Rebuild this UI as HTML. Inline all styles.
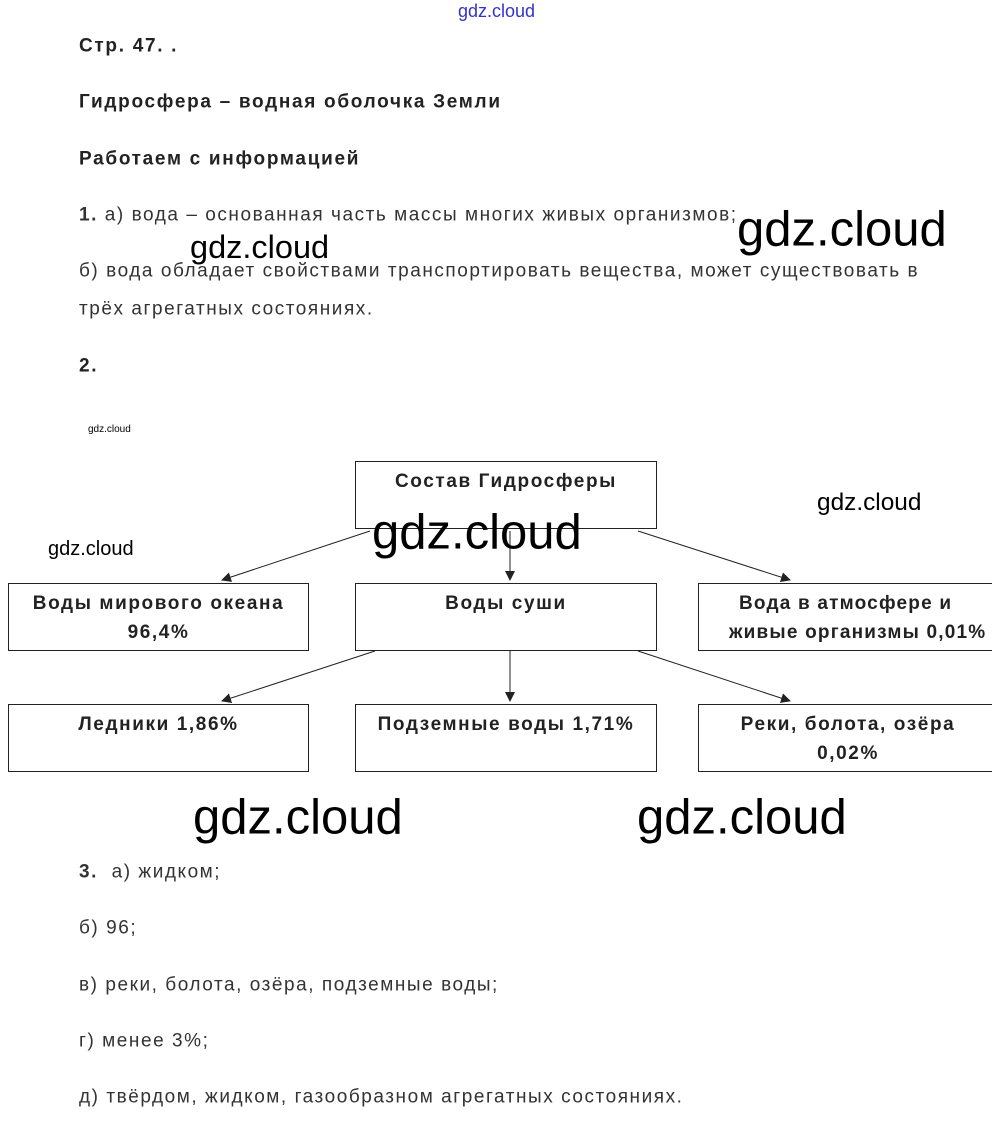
<!DOCTYPE html>
<html><head><meta charset="utf-8">
<style>
body{margin:0;width:992px;height:1129px;background:#fff;position:relative;overflow:hidden;font-family:"Liberation Sans",Arial,sans-serif;color:#333}
.t{position:absolute;left:79px;font-size:19px;letter-spacing:1.55px;white-space:nowrap;line-height:1;transform:translateY(-50%)}
.b{font-weight:bold;color:#222;letter-spacing:1.7px}
.w{position:absolute;color:#000;white-space:nowrap;line-height:1;transform:translateY(-50%);font-family:"Liberation Sans",sans-serif;letter-spacing:0}
.box{position:absolute;border:1.5px solid #222;box-sizing:border-box;text-align:center;font-weight:bold;font-size:19px;letter-spacing:1.6px;color:#222;line-height:29px;padding-top:5px;white-space:nowrap}
</style></head><body>
<div class="w" style="left:458px;top:11px;font-size:18px;color:#3333cc">gdz.cloud</div>
<div class="t b" style="top:46px">Стр. 47. .</div>
<div class="t b" style="top:102px">Гидросфера – водная оболочка Земли</div>
<div class="t b" style="top:159px">Работаем с информацией</div>
<div class="t" style="top:215px"><b>1.</b> а) вода – основанная часть массы многих живых организмов;</div>
<div class="t" style="top:271px">б) вода обладает свойствами транспортировать вещества, может существовать в</div>
<div class="t" style="top:309px">трёх агрегатных состояниях.</div>
<div class="t b" style="top:366px">2.</div>
<div class="w" style="left:88px;top:430px;font-size:10px">gdz.cloud</div>

<svg style="position:absolute;left:0;top:0" width="992" height="1129">
<defs><marker id="a" markerWidth="10" markerHeight="10" refX="9" refY="5" orient="auto" markerUnits="userSpaceOnUse"><path d="M0,0 L10,5 L0,10 z" fill="#222"/></marker></defs>
<g stroke="#222" stroke-width="1" marker-end="url(#a)">
<line x1="370" y1="531" x2="222" y2="580"/>
<line x1="510" y1="531" x2="510" y2="580"/>
<line x1="638" y1="531" x2="790" y2="580"/>
<line x1="375" y1="651" x2="222" y2="701"/>
<line x1="510" y1="651" x2="510" y2="701"/>
<line x1="638" y1="651" x2="790" y2="701"/>
</g></svg>

<div class="box" style="left:355px;top:461px;width:302px;height:68px">Состав Гидросферы</div>
<div class="box" style="left:8px;top:583px;width:301px;height:68px">Воды мирового океана<br>96,4%</div>
<div class="box" style="left:355px;top:583px;width:302px;height:68px">Воды суши</div>
<div class="box" style="left:698px;top:583px;width:300px;height:68px;text-align:left;padding-left:30px;letter-spacing:1.2px"><span style="margin-left:10px">Вода в атмосфере и</span><br>живые организмы 0,01%</div>
<div class="box" style="left:8px;top:704px;width:301px;height:68px">Ледники 1,86%</div>
<div class="box" style="left:355px;top:704px;width:302px;height:68px">Подземные воды 1,71%</div>
<div class="box" style="left:698px;top:704px;width:300px;height:68px">Реки, болота, озёра<br>0,02%</div>

<div class="t" style="top:872px"><b>3.</b>&nbsp; а) жидком;</div>
<div class="t" style="top:928px">б) 96;</div>
<div class="t" style="top:985px">в) реки, болота, озёра, подземные воды;</div>
<div class="t" style="top:1041px">г) менее 3%;</div>
<div class="t" style="top:1097px">д) твёрдом, жидком, газообразном агрегатных состояниях.</div>

<div class="w" style="left:737px;top:230px;font-size:49px">gdz.cloud</div>
<div class="w" style="left:190px;top:247px;font-size:32.5px">gdz.cloud</div>
<div class="w" style="left:817px;top:503px;font-size:24.4px">gdz.cloud</div>
<div class="w" style="left:48px;top:549px;font-size:20px">gdz.cloud</div>
<div class="w" style="left:372px;top:533px;font-size:49px">gdz.cloud</div>
<div class="w" style="left:193px;top:818px;font-size:49px">gdz.cloud</div>
<div class="w" style="left:637px;top:818px;font-size:49px">gdz.cloud</div>
</body></html>
